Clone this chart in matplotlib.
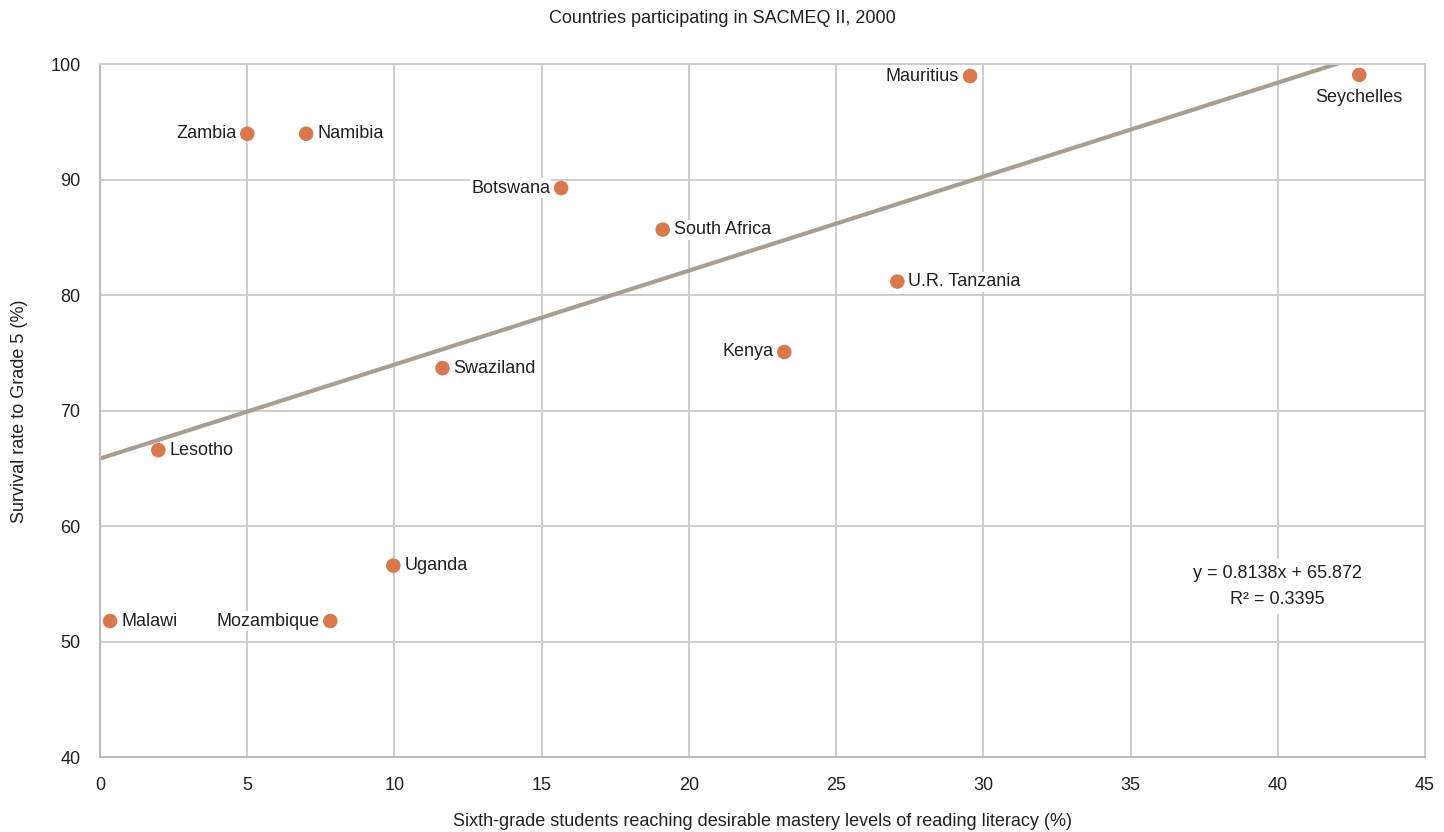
import matplotlib
matplotlib.use("Agg")
import matplotlib.pyplot as plt
import numpy as np

plt.rcParams['font.family'] = ['Liberation Sans Narrow', 'Liberation Sans', 'DejaVu Sans']

# SACMEQ II, 2000 -- reading mastery (%) vs survival to grade 5 (%)
countries = ["Malawi", "Lesotho", "Zambia", "Namibia", "Mozambique", "Uganda",
             "Swaziland", "Botswana", "South Africa", "Kenya", "U.R. Tanzania",
             "Mauritius", "Seychelles"]
reading_mastery = [0.34, 1.98, 5.0, 7.0, 7.82, 9.96, 11.63, 15.66, 19.11, 23.24, 27.08, 29.55, 42.77]
survival_rate = [51.8, 66.6, 94.0, 94.0, 51.8, 56.6, 73.7, 89.3, 85.7, 75.1, 81.2, 99.0, 99.1]

# Linear trend as reported on the chart
slope = 0.8138
intercept = 65.872
r_squared = 0.3395

x_ticks = [0, 5, 10, 15, 20, 25, 30, 35, 40, 45]
y_ticks = [40, 50, 60, 70, 80, 90, 100]

# label placement: side of the dot each name sits on
label_side = {
    "Malawi": "right", "Lesotho": "right", "Zambia": "left", "Namibia": "right",
    "Mozambique": "left", "Uganda": "right", "Swaziland": "right",
    "Botswana": "left", "South Africa": "right", "Kenya": "left",
    "U.R. Tanzania": "right", "Mauritius": "left", "Seychelles": "below",
}

dot_color = "#D9784F"
trend_color = "#A99D90"
grid_color = "#CBCCCE"
text_color = "#231F20"

fig = plt.figure(figsize=(14.44, 8.32), dpi=100)
ax = fig.add_axes([0.0693, 0.0898, 0.9175, 0.8327])

ax.set_xlim(0, 45)
ax.set_ylim(40, 100)
ax.set_xticks(x_ticks)
ax.set_yticks(y_ticks)
ax.grid(True, color=grid_color, linewidth=1.4, zorder=0)
ax.set_axisbelow(True)
for side in ["left", "bottom", "top", "right"]:
    ax.spines[side].set_color(grid_color)
    ax.spines[side].set_linewidth(1.4)
ax.spines["left"].set_color("#B8B9BB")
ax.spines["bottom"].set_color("#B8B9BB")
ax.tick_params(length=0, labelsize=13, colors=text_color, pad=14)

# trend line over the data range (clipped at the plot top)
tx = np.array([0, max(reading_mastery)])
ax.plot(tx, slope * tx + intercept, color=trend_color, linewidth=3, zorder=2,
        solid_capstyle="butt")

ax.scatter(reading_mastery, survival_rate, s=110, color=dot_color,
           edgecolors="none", zorder=4)

bbox = dict(facecolor="white", edgecolor="none", pad=1.0)
for name, x, y in zip(countries, reading_mastery, survival_rate):
    side = label_side[name]
    if side == "right":
        ax.annotate(name, (x, y), xytext=(8, 0), textcoords="offset points",
                    ha="left", va="center", fontsize=13, color=text_color,
                    bbox=bbox, zorder=3)
    elif side == "left":
        ax.annotate(name, (x, y), xytext=(-8, 0), textcoords="offset points",
                    ha="right", va="center", fontsize=13, color=text_color,
                    bbox=bbox, zorder=3)
    else:
        ax.annotate(name, (x, y), xytext=(0, -10), textcoords="offset points",
                    ha="center", va="top", fontsize=13, color=text_color,
                    bbox=bbox, zorder=3)

ax.text(40.0, 54.8, f"y = {slope}x + {intercept}\nR\u00b2 = {r_squared}",
        ha="center", va="center", fontsize=13, color=text_color,
        linespacing=1.75, bbox=dict(facecolor="white", edgecolor="none", pad=4),
        zorder=3)

ax.set_xlabel("Sixth-grade students reaching desirable mastery levels of reading literacy (%)",
              fontsize=13, color=text_color, labelpad=14)
ax.set_ylabel("Survival rate to Grade 5 (%)", fontsize=13, color=text_color, labelpad=16)
fig.text(0.5, 0.978, "Countries participating in SACMEQ II, 2000", ha="center",
         va="center", fontsize=13, color=text_color)

fig.savefig("out.png", dpi=100, facecolor="white")
